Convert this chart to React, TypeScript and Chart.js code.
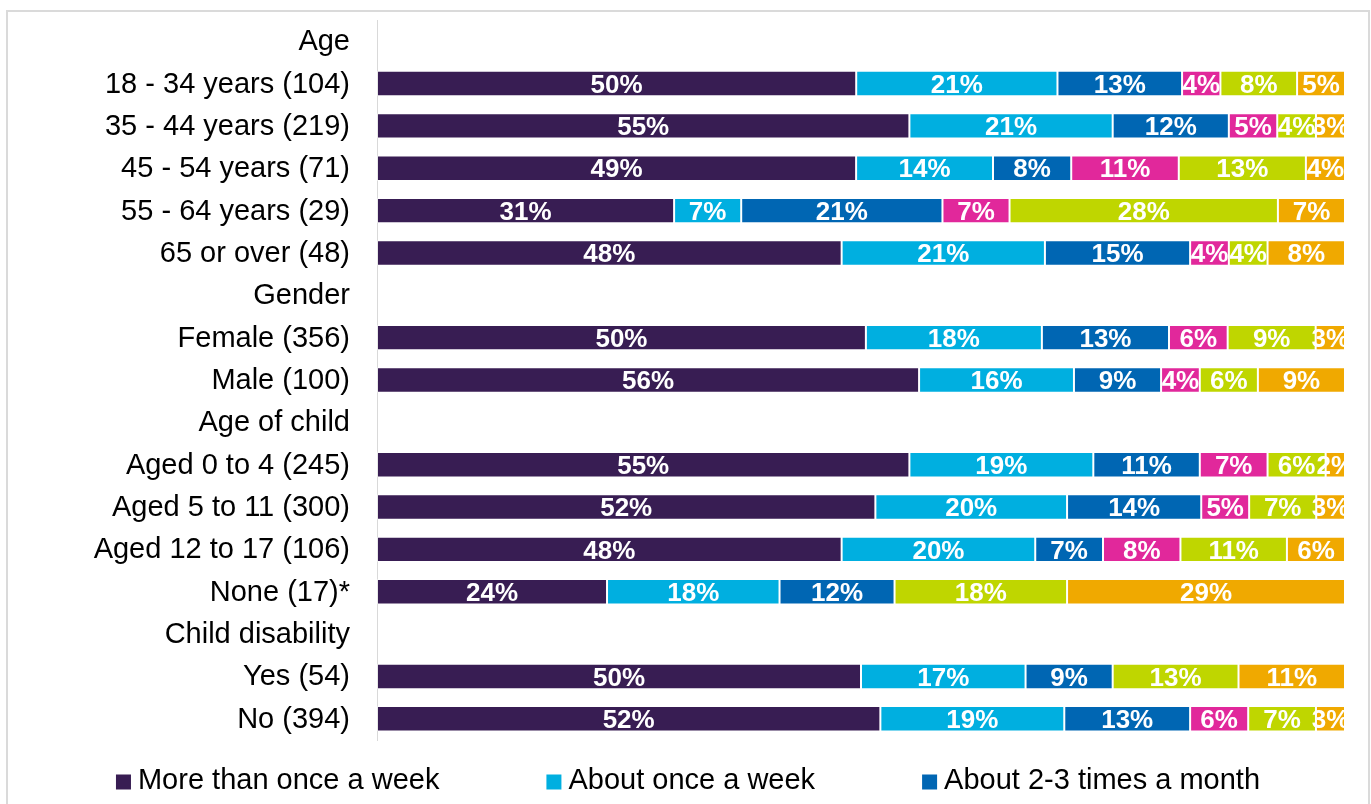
import React, { useEffect, useRef } from "react";
import { Chart, registerables } from "chart.js";

Chart.register(...registerables);

const categories = [
  "Age",
  "18 - 34 years (104)",
  "35 - 44 years (219)",
  "45 - 54 years (71)",
  "55 - 64 years (29)",
  "65 or over (48)",
  "Gender",
  "Female (356)",
  "Male (100)",
  "Age of child",
  "Aged 0 to 4 (245)",
  "Aged 5 to 11 (300)",
  "Aged 12 to 17 (106)",
  "None (17)*",
  "Child disability",
  "Yes (54)",
  "No (394)",
];

const seriesLabels = [
  "More than once a week",
  "About once a week",
  "About 2-3 times a month",
  "About once a month",
  "Less than once a month",
  "Never",
];

const seriesColors = ["#381d53", "#00afe0", "#0066b3", "#e1289b", "#bfd600", "#f0a900"];

const moreThanOnceAWeek = [null, 50, 55, 49, 31, 48, null, 50, 56, null, 55, 52, 48, 24, null, 50, 52];
const aboutOnceAWeek = [null, 21, 21, 14, 7, 21, null, 18, 16, null, 19, 20, 20, 18, null, 17, 19];
const about2to3TimesAMonth = [null, 13, 12, 8, 21, 15, null, 13, 9, null, 11, 14, 7, 12, null, 9, 13];
const aboutOnceAMonth = [null, 4, 5, 11, 7, 4, null, 6, 4, null, 7, 5, 8, 0, null, 0, 6];
const lessThanOnceAMonth = [null, 8, 4, 13, 28, 4, null, 9, 6, null, 6, 7, 11, 18, null, 13, 7];
const never = [null, 5, 3, 4, 7, 8, null, 3, 9, null, 2, 3, 6, 29, null, 11, 3];

const seriesValues: (number | null)[][] = [
  moreThanOnceAWeek,
  aboutOnceAWeek,
  about2to3TimesAMonth,
  aboutOnceAMonth,
  lessThanOnceAMonth,
  never,
];

const FONT = '"Liberation Sans", Arial, Helvetica, sans-serif';

const barLabelPlugin = {
  id: "barLabels",
  afterDatasetsDraw(chart: any) {
    const { ctx, chartArea } = chart;
    ctx.save();
    ctx.beginPath();
    ctx.rect(chartArea.left, chartArea.top, chartArea.right - chartArea.left, chartArea.bottom - chartArea.top);
    ctx.clip();
    ctx.font = `bold 26px ${FONT}`;
    ctx.fillStyle = "#ffffff";
    ctx.textAlign = "center";
    ctx.textBaseline = "middle";
    chart.data.datasets.forEach((_ds: any, i: number) => {
      const meta = chart.getDatasetMeta(i);
      const raw = seriesValues[i];
      meta.data.forEach((bar: any, j: number) => {
        const v = raw[j];
        if (v == null || v === 0) return;
        const p = bar.getProps(["x", "base", "y"], true);
        ctx.fillText(`${v}%`, (p.x + p.base) / 2, p.y + 2);
      });
    });
    ctx.restore();
  },
};

const legendPlugin = {
  id: "bottomLegend",
  afterDraw(chart: any) {
    const ctx = chart.ctx;
    ctx.save();
    ctx.font = `29px ${FONT}`;
    ctx.textBaseline = "middle";
    ctx.textAlign = "left";
    const box = 15;
    const gap = 7;
    const itemGap = 107;
    const items = chart.data.datasets.map((ds: any) => ({
      text: ds.label,
      color: ds.backgroundColor,
      w: box + gap + ctx.measureText(ds.label).width,
    }));
    const maxW = chart.width - 40;
    const rows: any[][] = [];
    let cur: any[] = [];
    let curW = 0;
    items.forEach((it: any) => {
      const add = cur.length ? itemGap + it.w : it.w;
      if (cur.length && curW + add > maxW) {
        rows.push(cur);
        cur = [it];
        curW = it.w;
      } else {
        cur.push(it);
        curW += add;
      }
    });
    if (cur.length) rows.push(cur);
    let y = chart.chartArea.bottom + 41;
    rows.forEach((row) => {
      const rw = row.reduce((s: number, it: any) => s + it.w, 0) + itemGap * (row.length - 1);
      let x = (chart.width - rw) / 2;
      row.forEach((it: any) => {
        ctx.fillStyle = it.color;
        ctx.fillRect(x, y - box / 2 + 1, box, box);
        ctx.fillStyle = "#000000";
        ctx.fillText(it.text, x + box + gap, y);
        x += it.w + itemGap;
      });
      y += 45;
    });
    ctx.restore();
  },
};

export default function App() {
  const canvasRef = useRef<HTMLCanvasElement | null>(null);

  useEffect(() => {
    if (!canvasRef.current) return;
    const rowSums = categories.map((_, r) =>
      seriesValues.reduce((s, arr) => s + (arr[r] ?? 0), 0)
    );
    const datasets = seriesValues.map((arr, i) => ({
      label: seriesLabels[i],
      data: arr.map((v, r) => (v == null ? null : (v / rowSums[r]) * 100)),
      backgroundColor: seriesColors[i],
      borderColor: "rgba(255,255,255,0.4)",
      borderWidth: 1,
      borderSkipped: false,
      barPercentage: 0.6,
      categoryPercentage: 1,
    }));
    const chart = new Chart(canvasRef.current, {
      type: "bar",
      data: { labels: categories, datasets },
      options: {
        indexAxis: "y",
        responsive: false,
        maintainAspectRatio: false,
        animation: false,
        layout: { padding: { top: 8, right: 22, bottom: 64, left: 0 } },
        plugins: {
          legend: { display: false },
          tooltip: { enabled: false },
        },
        scales: {
          x: { stacked: true, display: false, min: 0, max: 100 },
          y: {
            stacked: true,
            grid: { display: false },
            border: { display: true, color: "#d9d9d9", width: 1 },
            ticks: {
              color: "#000000",
              font: { size: 29, family: FONT },
              padding: 19,
              labelOffset: 1,
              autoSkip: false,
            },
            afterFit: (scale: any) => {
              scale.width = 368;
              scale.paddingTop = 0;
              scale.paddingBottom = 0;
            },
          },
        },
      },
      plugins: [barLabelPlugin, legendPlugin],
    } as any);
    return () => chart.destroy();
  }, []);

  return (
    <div
      style={{
        position: "fixed",
        left: 0,
        top: 0,
        width: 1371,
        height: 804,
        overflow: "hidden",
        background: "#ffffff",
      }}
    >
      <div
        style={{
          position: "absolute",
          left: 6,
          top: 10,
          width: 1364,
          height: 1000,
          boxSizing: "border-box",
          border: "2px solid #dadada",
        }}
      />
      <canvas
        ref={canvasRef}
        width={1358}
        height={792}
        style={{ position: "absolute", left: 9, top: 12, width: 1358, height: 792 }}
      />
    </div>
  );
}
